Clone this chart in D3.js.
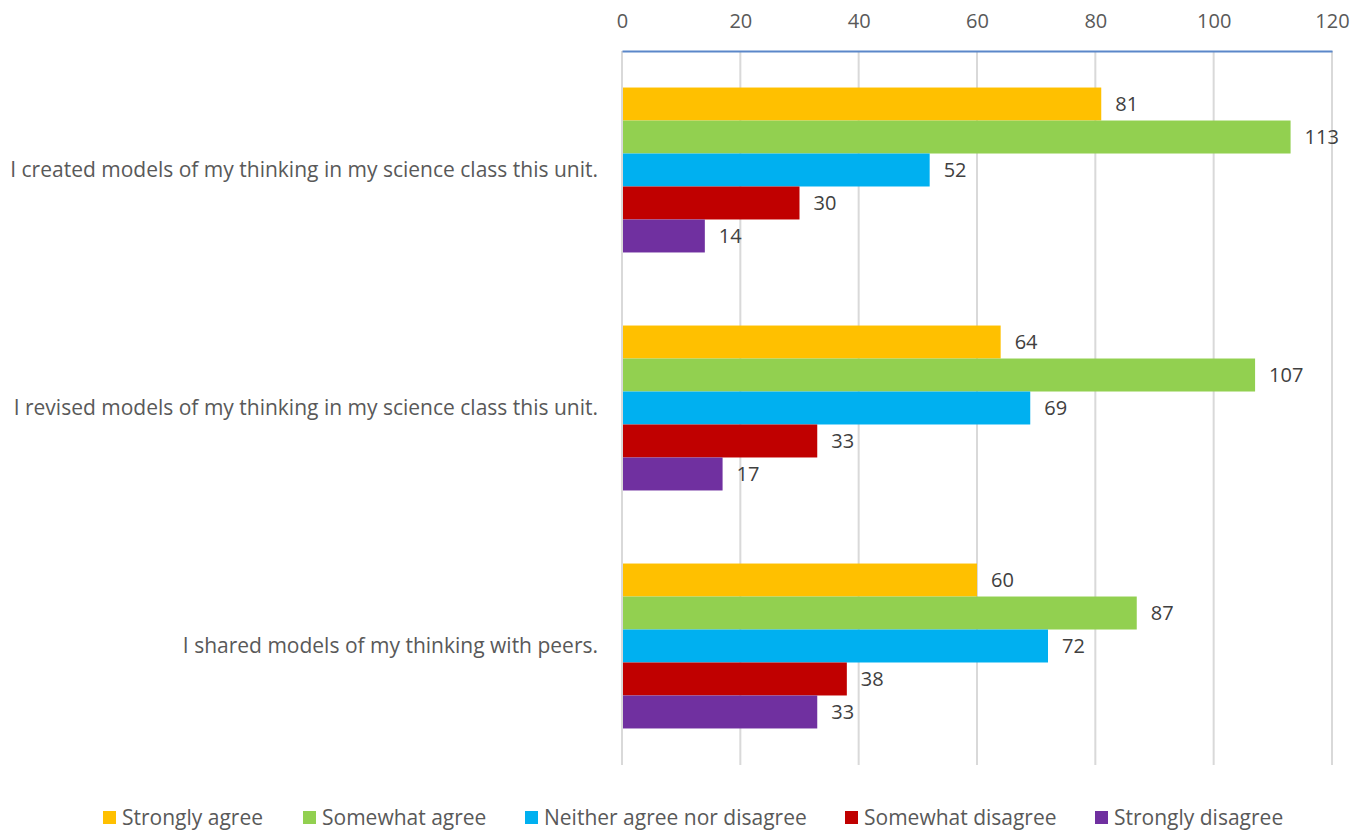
<!DOCTYPE html>
<html>
<head>
<meta charset="utf-8">
<script src="https://cdn.jsdelivr.net/npm/d3@7"></script>
<style>
  body { margin: 0; background: #fff; }
  svg { display: block; font-family: "Open Sans", "Noto Sans", sans-serif; }
</style>
</head>
<body>
<svg id="chart" width="1365" height="832"></svg>
<script>
// Survey statements (top to bottom)
const categories = [
  "I created models of my thinking in my science class this unit.",
  "I revised models of my thinking in my science class this unit.",
  "I shared models of my thinking with peers."
];
// Response options, in drawing order within each group
const seriesNames = ["Strongly agree", "Somewhat agree", "Neither agree nor disagree", "Somewhat disagree", "Strongly disagree"];
const seriesColors = ["#FFC000", "#92D050", "#00B0F0", "#C00000", "#7030A0"];
// Response counts per statement, one array per response option
const stronglyAgree = [81, 64, 60];
const somewhatAgree = [113, 107, 87];
const neither = [52, 69, 72];
const somewhatDisagree = [30, 33, 38];
const stronglyDisagree = [14, 17, 33];
const seriesValues = [stronglyAgree, somewhatAgree, neither, somewhatDisagree, stronglyDisagree];
const xTicks = [0, 20, 40, 60, 80, 100, 120];

const svg = d3.select("#chart");
const plotLeft = 622, plotRight = 1332, plotTop = 51, plotBottom = 765;

const x = d3.scaleLinear().domain([0, 120]).range([plotLeft, plotRight]);
const y = d3.scaleBand().domain(categories).range([plotTop, plotBottom])
  .paddingInner(0.307).paddingOuter(0.1535);
const ySub = d3.scaleBand().domain(seriesNames).range([0, y.bandwidth()]).padding(0);

// Vertical gridlines
svg.append("g").selectAll("line").data(xTicks).join("line")
  .attr("x1", d => x(d)).attr("x2", d => x(d))
  .attr("y1", plotTop).attr("y2", plotBottom)
  .attr("stroke", "#d9d9d9").attr("stroke-width", 2);

// Top axis
const axis = svg.append("g").attr("transform", `translate(0,${plotTop})`)
  .call(d3.axisTop(x).tickValues(xTicks).tickSize(0).tickPadding(23));
axis.select(".domain").attr("stroke", "#5B87C9").attr("stroke-width", 2);
axis.selectAll("text").attr("font-size", 20).attr("fill", "#595959")
  .attr("font-family", "Open Sans, sans-serif");

// Bars and value labels
const groups = svg.append("g").selectAll("g").data(categories).join("g")
  .attr("transform", d => `translate(0,${y(d)})`);

groups.each(function(cat, ci) {
  const g = d3.select(this);
  const rows = seriesNames.map((s, si) => ({ s, si, v: seriesValues[si][ci] }));
  g.selectAll("rect").data(rows).join("rect")
    .attr("x", x(0) + 1)
    .attr("y", d => ySub(d.s))
    .attr("width", d => x(d.v) - x(0) - 1)
    .attr("height", ySub.bandwidth())
    .attr("fill", d => seriesColors[d.si]);
  g.selectAll("text.val").data(rows).join("text")
    .attr("class", "val")
    .attr("x", d => x(d.v) + 14)
    .attr("y", d => ySub(d.s) + ySub.bandwidth() / 2)
    .attr("dy", "0.35em")
    .attr("font-size", 20).attr("fill", "#404040")
    .text(d => d.v);
});

// Category labels
svg.append("g").selectAll("text").data(categories).join("text")
  .attr("x", 598)
  .attr("y", d => y(d) + y.bandwidth() / 2)
  .attr("dy", "0.35em")
  .attr("text-anchor", "end")
  .attr("font-size", 21).attr("fill", "#595959")
  .text(d => d);

// Legend
const legendX = [103, 303, 525, 845, 1095];
const legend = svg.append("g").selectAll("g").data(seriesNames).join("g")
  .attr("transform", (d, i) => `translate(${legendX[i]},811)`);
legend.append("rect").attr("width", 13).attr("height", 13)
  .attr("fill", (d, i) => seriesColors[i]);
legend.append("text").attr("x", 19).attr("y", 7).attr("dy", "0.35em")
  .attr("font-size", 21).attr("fill", "#595959").text(d => d);
</script>
</body>
</html>
